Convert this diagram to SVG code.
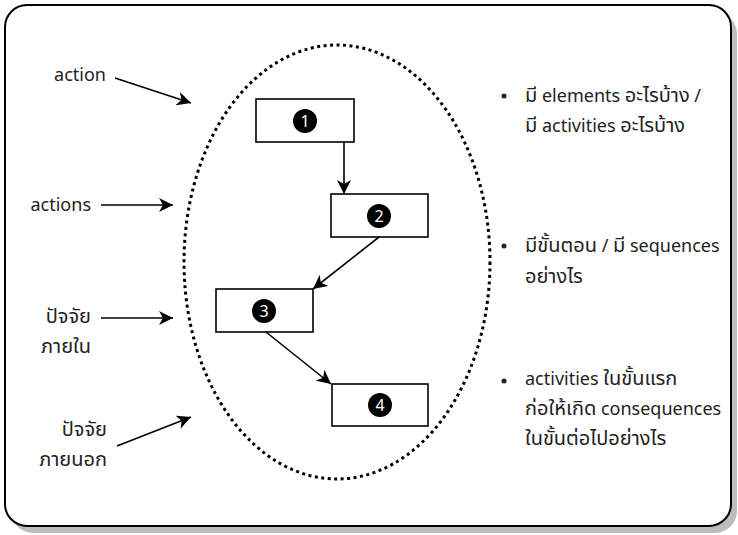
<svg xmlns="http://www.w3.org/2000/svg" width="738" height="535" viewBox="0 0 738 535">
<defs>
<style>
.t{font-family:"Noto Sans","Noto Sans Thai","Leelawadee UI",sans-serif;font-size:18px;fill:#222}
.th{font-size:20px}
.n{font-family:"Noto Sans",sans-serif;font-size:16px;fill:#fff;text-anchor:middle}
.box{fill:#fff;stroke:#000;stroke-width:1.6}
.c{stroke:#000;stroke-width:1.6;fill:none;marker-end:url(#ah)}
</style>
<marker id="ah" markerUnits="userSpaceOnUse" markerWidth="16" markerHeight="14" refX="14" refY="7" orient="auto">
<path d="M0,0 L14,7 L0,14 L4,7 z" fill="#000"/>
</marker>
</defs>
<rect x="11" y="12" width="726" height="521" rx="22" fill="#bdbdbd"/>
<rect x="5" y="5" width="726" height="521" rx="22" fill="#fff" stroke="#000" stroke-width="2"/>
<ellipse id="boundary" cx="337" cy="262" rx="153" ry="217" fill="none" stroke="#000" stroke-width="3" stroke-dasharray="3 3.5"/>
<g id="box1"><rect class="box" x="256" y="99" width="98" height="43"/><circle cx="305" cy="121" r="12"/><text class="n" x="305" y="127">1</text></g>
<g id="box2"><rect class="box" x="331" y="194" width="97" height="43"/><circle cx="379" cy="216" r="12"/><text class="n" x="379" y="222">2</text></g>
<g id="box3"><rect class="box" x="216" y="289" width="97" height="43"/><circle cx="264" cy="311" r="12"/><text class="n" x="264" y="317">3</text></g>
<g id="box4"><rect class="box" x="332" y="384" width="96" height="42"/><circle cx="380" cy="405" r="12"/><text class="n" x="380" y="411">4</text></g>
<g id="connectors">
<path class="c" d="M344,142 L344,194"/>
<path class="c" d="M379,237 L313,289"/>
<path class="c" d="M266,332 L331,384"/>
<path class="c" d="M115,78 L191,103"/>
<path class="c" d="M101,205 L173,205"/>
<path class="c" d="M101,318 L173,318"/>
<path class="c" d="M117,446 L191,417"/>
</g>
<g id="left-labels" text-anchor="end">
<text class="t" x="106" y="81">action</text>
<text class="t" x="91" y="211">actions</text>
<text class="t th" x="91" y="323">ปัจจัย</text>
<text class="t th" x="91" y="353">ภายใน</text>
<text class="t th" x="107" y="436">ปัจจัย</text>
<text class="t th" x="107" y="466">ภายนอก</text>
</g>
<g id="right-notes">
<circle cx="504" cy="96" r="2.5" fill="#222"/>
<text class="t" x="525" y="102"><tspan class="th">มี</tspan> elements <tspan class="th">อะไรบ้าง</tspan> /</text>
<text class="t" x="525" y="132"><tspan class="th">มี</tspan> activities <tspan class="th">อะไรบ้าง</tspan></text>
<circle cx="504" cy="246" r="2.5" fill="#222"/>
<text class="t" x="525" y="252"><tspan class="th">มีขั้นตอน</tspan> / <tspan class="th">มี</tspan> sequences</text>
<text class="t th" x="525" y="283">อย่างไร</text>
<circle cx="504" cy="381" r="2.5" fill="#222"/>
<text class="t" x="525" y="385">activities <tspan class="th">ในขั้นแรก</tspan></text>
<text class="t" x="525" y="415"><tspan class="th">ก่อให้เกิด</tspan> consequences</text>
<text class="t th" x="525" y="445">ในขั้นต่อไปอย่างไร</text>
</g>
</svg>
